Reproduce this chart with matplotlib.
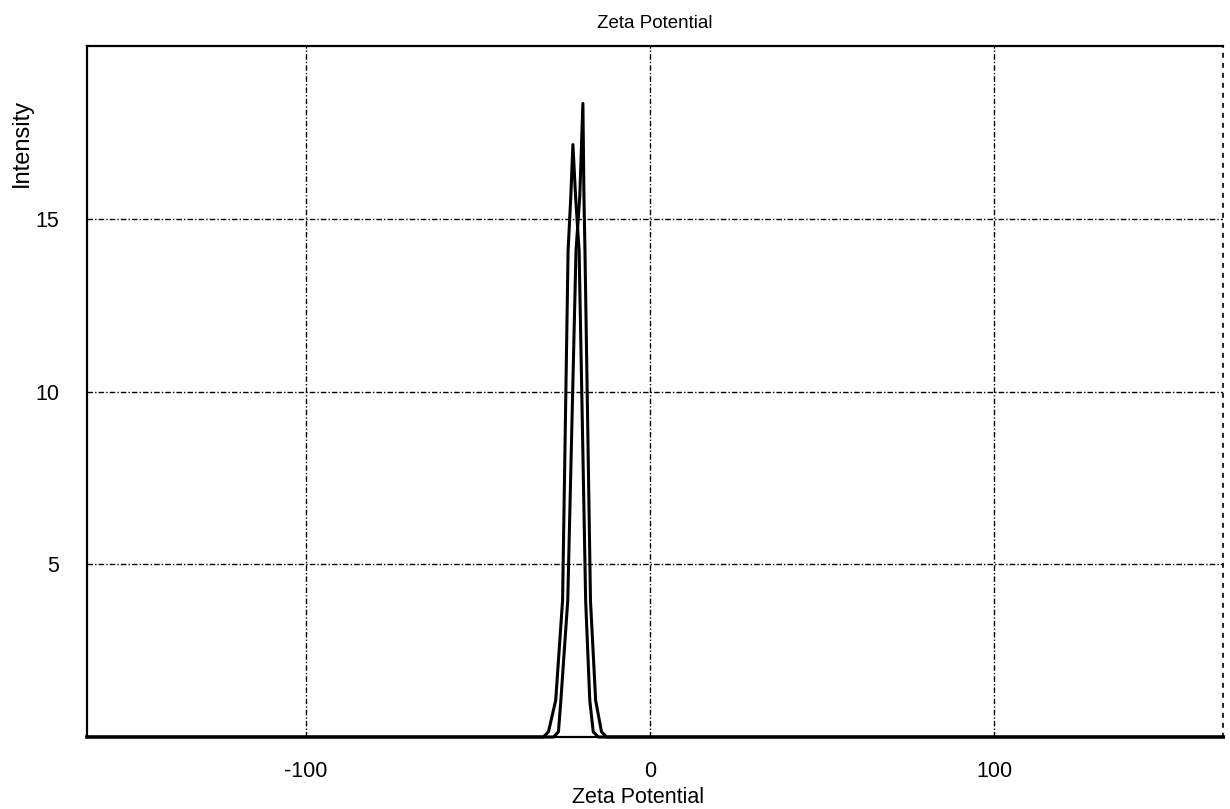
import matplotlib
matplotlib.use("Agg")
import matplotlib.pyplot as plt

# axis ranges and ticks
X_LIMITS = (-163.5, 166.5)
Y_LIMITS = (0, 20)
X_TICKS = [-100, 0, 100]
Y_TICKS = [5, 10, 15]

# left peak (lower one)
peak_a_x = [-163.5, -31.0, -29.5, -27.4, -25.4, -23.8, -23.0, -22.4, -21.6, -20.6, -18.7, -17.5, -16.5, -15.0, 166.5]
peak_a_y = [0, 0, 0.15, 1.06, 3.95, 14.08, 15.67, 17.15, 15.6, 14.08, 3.95, 1.06, 0.15, 0, 0]

# right peak (taller one)
peak_b_x = [-163.5, -28.0, -26.6, -25.9, -23.9, -21.5, -20.4, -19.5, -19.2, -18.9, -17.3, -15.8, -14.1, -12.6, 166.5]
peak_b_y = [0, 0, 0.15, 1.06, 3.95, 14.08, 15.67, 18.34, 15.67, 14.08, 3.95, 1.06, 0.15, 0, 0]

FONT = ["Liberation Sans", "DejaVu Sans"]


def main() -> None:
    plt.rcParams["font.family"] = FONT
    plt.rcParams["axes.unicode_minus"] = False

    fig = plt.figure(figsize=(12.3, 8.09), dpi=100, facecolor="white")
    ax = fig.add_axes([0.0707, 0.0890, 0.924, 0.854])

    for xs, ys in ((peak_a_x, peak_a_y), (peak_b_x, peak_b_y)):
        ax.plot(xs, ys, color="black", linewidth=2.2, solid_joinstyle="round", clip_on=False)

    ax.set_xlim(*X_LIMITS)
    ax.set_ylim(*Y_LIMITS)
    ax.set_xticks(X_TICKS)
    ax.set_yticks(Y_TICKS)
    ax.tick_params(length=0, labelsize=15.5, colors="black")
    ax.tick_params(axis="x", pad=17)
    ax.tick_params(axis="y", pad=20)

    ax.grid(True, color="black", linestyle=(0, (4, 1.5, 1, 1.5)), linewidth=1.0)
    ax.set_axisbelow(True)

    for side in ("left", "bottom", "top"):
        ax.spines[side].set_linewidth(1.6)
        ax.spines[side].set_color("black")
    ax.spines["right"].set_linestyle((0, (2, 4)))
    ax.spines["right"].set_linewidth(1.2)

    ax.set_title("Zeta Potential", fontsize=13.5, pad=13)
    fig.text(0.519, 0.0148, "Zeta Potential", fontsize=15.5, ha="center", va="center")
    fig.text(0.018, 0.823, "Intensity", rotation=90, fontsize=17, ha="center", va="center")

    fig.savefig("out.png", dpi=100, facecolor=fig.get_facecolor())


if __name__ == "__main__":
    main()
